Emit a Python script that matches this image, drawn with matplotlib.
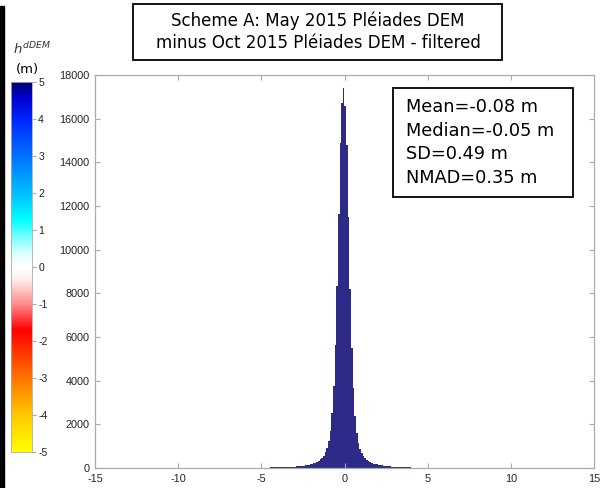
import numpy as np
import matplotlib
matplotlib.use('Agg')
from matplotlib import pyplot as plt
from matplotlib.colors import LinearSegmentedColormap
from matplotlib.patches import Rectangle

# histogram of dDEM differences, 0.1 m bins from -6 to 6 m
bin_edges = np.arange(-6.0, 6.0001, 0.1)
counts_left = [11, 11, 12, 12, 13, 13, 14, 15, 16, 16,
               17, 18, 19, 20, 21, 23, 24, 26, 27, 29,
               31, 33, 35, 38, 41, 44, 48, 52, 57, 62,
               68, 75, 83, 92, 102, 113, 125, 139, 155, 173,
               194, 218, 247, 283, 330, 392, 470, 570, 715, 910,
               1220, 1700, 2500, 3750, 5650, 8350, 11650, 14900, 16700]
counts_peak = [17400]
counts_right = [16600, 14800, 11500, 8200, 5500, 3650, 2400, 1600, 1150, 860,
                670, 535, 445, 372, 312, 268, 234, 206, 183, 163,
                146, 131, 118, 106, 95, 86, 77, 69, 62, 56,
                51, 46, 42, 38, 35, 32, 30, 28, 26, 24,
                22, 21, 20, 19, 18, 17, 16, 15, 14, 14,
                13, 13, 12, 12, 11, 11, 10, 10, 10, 10]
counts = np.array(counts_left + counts_peak + counts_right)

x_ticks = [-15, -10, -5, 0, 5, 10, 15]
y_ticks = [0, 2000, 4000, 6000, 8000, 10000, 12000, 14000, 16000, 18000]
cbar_ticks = [5, 4, 3, 2, 1, 0, -1, -2, -3, -4, -5]

title_lines = ['Scheme A: May 2015 Pléiades DEM',
               'minus Oct 2015 Pléiades DEM - filtered']
stats_lines = ['Mean=-0.08 m', 'Median=-0.05 m', 'SD=0.49 m', 'NMAD=0.35 m']

# colour scale of the dDEM map
cmap_nodes = [(-5, (1, 1, 0)), (-4, (1, 0.78, 0)), (-3, (1, 0.45, 0)),
              (-1.7, (1, 0, 0)), (-1, (1, 0.55, 0.55)), (-0.3, (1, 0.95, 0.95)),
              (0, (1, 1, 1)), (0.4, (0.85, 1, 1)), (1.3, (0, 1, 1)),
              (2, (0, 0.75, 1)), (3, (0, 0.45, 1)), (4, (0, 0.15, 1)),
              (4.6, (0, 0, 0.8)), (5, (0, 0, 0.45))]

plt.rcParams['axes.unicode_minus'] = False
fig = plt.figure(figsize=(6.08, 4.88), dpi=100)
W, H = 608.0, 488.0
grey = '#ababab'
tickfont = 'Liberation Sans'

ax = fig.add_axes([95 / W, 20 / H, 499 / W, 393 / H])
ax.stairs(counts, bin_edges, fill=True, color='#2d2a88')
ax.set_xlim(-15, 15)
ax.set_ylim(0, 18000)
ax.set_xticks(x_ticks)
ax.set_yticks(y_ticks)
ax.tick_params(direction='in', top=True, right=True, labelsize=7.8,
               color=grey, length=3.5, labelcolor='#222222', pad=4)
for lab in ax.get_xticklabels() + ax.get_yticklabels():
    lab.set_family(tickfont)
for s in ax.spines.values():
    s.set_color(grey)
    s.set_linewidth(0.9)

# statistics box
fig.patches.append(Rectangle((393 / W, 1 - 197 / H), 180 / W, 109 / H,
                             transform=fig.transFigure, fc='white',
                             ec='black', lw=1.3, zorder=3))
fig.text(406 / W, 1 - 142.5 / H, '\n'.join(stats_lines), fontsize=12.8,
         va='center', ha='left', linespacing=1.4, family='DejaVu Sans',
         zorder=4)

# title box
fig.patches.append(Rectangle((133 / W, 1 - 60 / H), 369 / W, 56 / H,
                             transform=fig.transFigure, fc='white',
                             ec='black', lw=1.3, zorder=3))
fig.text(318 / W, 1 - 31.5 / H, '\n'.join(title_lines), fontsize=12,
         ha='center', va='center', linespacing=1.3, family='DejaVu Sans',
         zorder=4)

# colour bar
cax = fig.add_axes([11 / W, 36 / H, 21 / W, 370 / H])
cmap = LinearSegmentedColormap.from_list(
    'ddem', [((v + 5) / 10, c) for v, c in cmap_nodes])
grad = np.linspace(-5, 5, 256).reshape(-1, 1)
cax.imshow(grad, aspect='auto', cmap=cmap, origin='lower',
           extent=[0, 1, -5, 5])
cax.set_xticks([])
cax.yaxis.tick_right()
cax.set_yticks(cbar_ticks)
cax.tick_params(axis='y', labelsize=7.5, color=grey, length=3, pad=1.5,
                labelcolor='#222222')
for lab in cax.get_yticklabels():
    lab.set_family(tickfont)
for s in cax.spines.values():
    s.set_color(grey)
    s.set_linewidth(0.6)

fig.text(13 / W, 1 - 49 / H, r'$h^{dDEM}$', fontsize=9.5, color='#333333',
         ha='left', va='center')
fig.text(16 / W, 1 - 70 / H, '(m)', fontsize=9.5, ha='left', va='center',
         family='DejaVu Sans')

fig.patches.append(Rectangle((0, 0), 4 / W, 1 - 6 / H,
                             transform=fig.transFigure, color='black',
                             zorder=5))

fig.savefig('out.png', dpi=100)
